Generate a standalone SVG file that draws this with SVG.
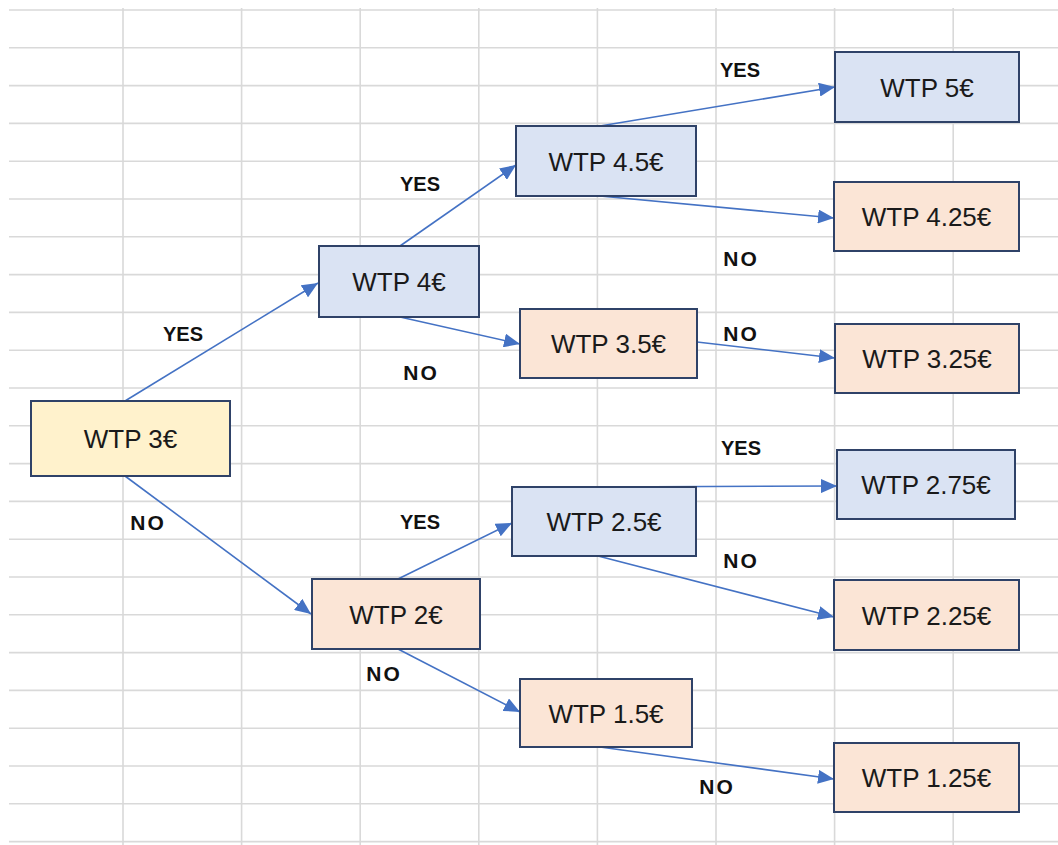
<svg xmlns="http://www.w3.org/2000/svg" width="1058" height="845" viewBox="0 0 1058 845">
<style>
.grid line{stroke:#D9D9D9;stroke-width:1.6}
.box{stroke:#2F4268;stroke-width:2}
.blue{fill:#DAE3F3}
.peach{fill:#FBE5D6}
.yellow{fill:#FFF2CC}
.t{font-family:"Liberation Sans",Arial,sans-serif;font-size:26px;fill:#1a1a1a;text-anchor:middle}
.lbl{font-family:"Liberation Sans",Arial,sans-serif;font-size:20px;font-weight:bold;fill:#111;text-anchor:middle}
.no{font-size:21px;letter-spacing:2px}
.conn line{stroke:#4472C4;stroke-width:1.6;marker-end:url(#ah)}
</style>
<defs>
<marker id="ah" markerUnits="userSpaceOnUse" markerWidth="16" markerHeight="14" viewBox="0 0 16 14" refX="16" refY="7" orient="auto">
<path d="M0,0 L16,7 L0,14 Z" fill="#4472C4"/>
</marker>
</defs>
<rect width="1058" height="845" fill="#FFFFFF"/>
<g class="grid">
<line x1="9" y1="10" x2="1058" y2="10"/>
<line x1="9" y1="47.8" x2="1058" y2="47.8"/>
<line x1="9" y1="85.6" x2="1058" y2="85.6"/>
<line x1="9" y1="123.4" x2="1058" y2="123.4"/>
<line x1="9" y1="161.2" x2="1058" y2="161.2"/>
<line x1="9" y1="199" x2="1058" y2="199"/>
<line x1="9" y1="236.8" x2="1058" y2="236.8"/>
<line x1="9" y1="274.6" x2="1058" y2="274.6"/>
<line x1="9" y1="312.4" x2="1058" y2="312.4"/>
<line x1="9" y1="350.2" x2="1058" y2="350.2"/>
<line x1="9" y1="388" x2="1058" y2="388"/>
<line x1="9" y1="425.8" x2="1058" y2="425.8"/>
<line x1="9" y1="463.6" x2="1058" y2="463.6"/>
<line x1="9" y1="501.4" x2="1058" y2="501.4"/>
<line x1="9" y1="539.2" x2="1058" y2="539.2"/>
<line x1="9" y1="577" x2="1058" y2="577"/>
<line x1="9" y1="614.8" x2="1058" y2="614.8"/>
<line x1="9" y1="652.6" x2="1058" y2="652.6"/>
<line x1="9" y1="690.4" x2="1058" y2="690.4"/>
<line x1="9" y1="728.2" x2="1058" y2="728.2"/>
<line x1="9" y1="766" x2="1058" y2="766"/>
<line x1="9" y1="803.8" x2="1058" y2="803.8"/>
<line x1="9" y1="841.6" x2="1058" y2="841.6"/>
<line x1="123" y1="8" x2="123" y2="845"/>
<line x1="241.6" y1="8" x2="241.6" y2="845"/>
<line x1="360.2" y1="8" x2="360.2" y2="845"/>
<line x1="478.8" y1="8" x2="478.8" y2="845"/>
<line x1="597.4" y1="8" x2="597.4" y2="845"/>
<line x1="716" y1="8" x2="716" y2="845"/>
<line x1="834.6" y1="8" x2="834.6" y2="845"/>
<line x1="953.2" y1="8" x2="953.2" y2="845"/>
</g>
<g class="conn" id="connectors">
<line x1="125" y1="401" x2="318" y2="283"/>
<line x1="125" y1="476" x2="311" y2="614"/>
<line x1="400" y1="246" x2="516" y2="165"/>
<line x1="400" y1="317" x2="520" y2="344"/>
<line x1="600" y1="126" x2="835" y2="87"/>
<line x1="600" y1="196" x2="834" y2="218"/>
<line x1="697" y1="342" x2="835" y2="358"/>
<line x1="398" y1="579" x2="512" y2="523"/>
<line x1="398" y1="649" x2="520" y2="712"/>
<line x1="597" y1="487" x2="837" y2="486"/>
<line x1="598" y1="556" x2="834" y2="617"/>
<line x1="600" y1="747" x2="834" y2="779"/>
</g>
<g id="n3"><rect class="box yellow" x="31" y="401" width="199" height="75"/><text class="t" x="130.5" y="447.5">WTP 3€</text></g>
<g id="n4"><rect class="box blue" x="319" y="246" width="160" height="71"/><text class="t" x="399" y="291">WTP 4€</text></g>
<g id="n45"><rect class="box blue" x="516" y="126" width="180" height="70"/><text class="t" x="606" y="170.5">WTP 4.5€</text></g>
<g id="n5"><rect class="box blue" x="835" y="52" width="184" height="70"/><text class="t" x="927" y="96.5">WTP 5€</text></g>
<g id="n425"><rect class="box peach" x="834" y="182" width="185" height="69"/><text class="t" x="926.5" y="226">WTP 4.25€</text></g>
<g id="n35"><rect class="box peach" x="520" y="309" width="177" height="69"/><text class="t" x="608.5" y="353">WTP 3.5€</text></g>
<g id="n325"><rect class="box peach" x="835" y="324" width="184" height="69"/><text class="t" x="927" y="368">WTP 3.25€</text></g>
<g id="n275"><rect class="box blue" x="837" y="450" width="178" height="69"/><text class="t" x="926" y="494">WTP 2.75€</text></g>
<g id="n25"><rect class="box blue" x="512" y="487" width="184" height="69"/><text class="t" x="604" y="531">WTP 2.5€</text></g>
<g id="n2"><rect class="box peach" x="312" y="579" width="168" height="70"/><text class="t" x="396" y="623.5">WTP 2€</text></g>
<g id="n225"><rect class="box peach" x="834" y="580" width="185" height="70"/><text class="t" x="926.5" y="624.5">WTP 2.25€</text></g>
<g id="n15"><rect class="box peach" x="520" y="679" width="172" height="68"/><text class="t" x="606" y="722.5">WTP 1.5€</text></g>
<g id="n125"><rect class="box peach" x="834" y="743" width="185" height="69"/><text class="t" x="926.5" y="787">WTP 1.25€</text></g>
<g id="labels">
<text class="lbl" x="183" y="341">YES</text>
<text class="lbl no" x="148" y="530">NO</text>
<text class="lbl" x="420" y="191">YES</text>
<text class="lbl no" x="421" y="380">NO</text>
<text class="lbl" x="740" y="77">YES</text>
<text class="lbl no" x="741" y="266">NO</text>
<text class="lbl no" x="741" y="341">NO</text>
<text class="lbl" x="741" y="455">YES</text>
<text class="lbl no" x="741" y="568">NO</text>
<text class="lbl" x="420" y="529">YES</text>
<text class="lbl no" x="384" y="681">NO</text>
<text class="lbl no" x="717" y="794">NO</text>
</g>
</svg>
